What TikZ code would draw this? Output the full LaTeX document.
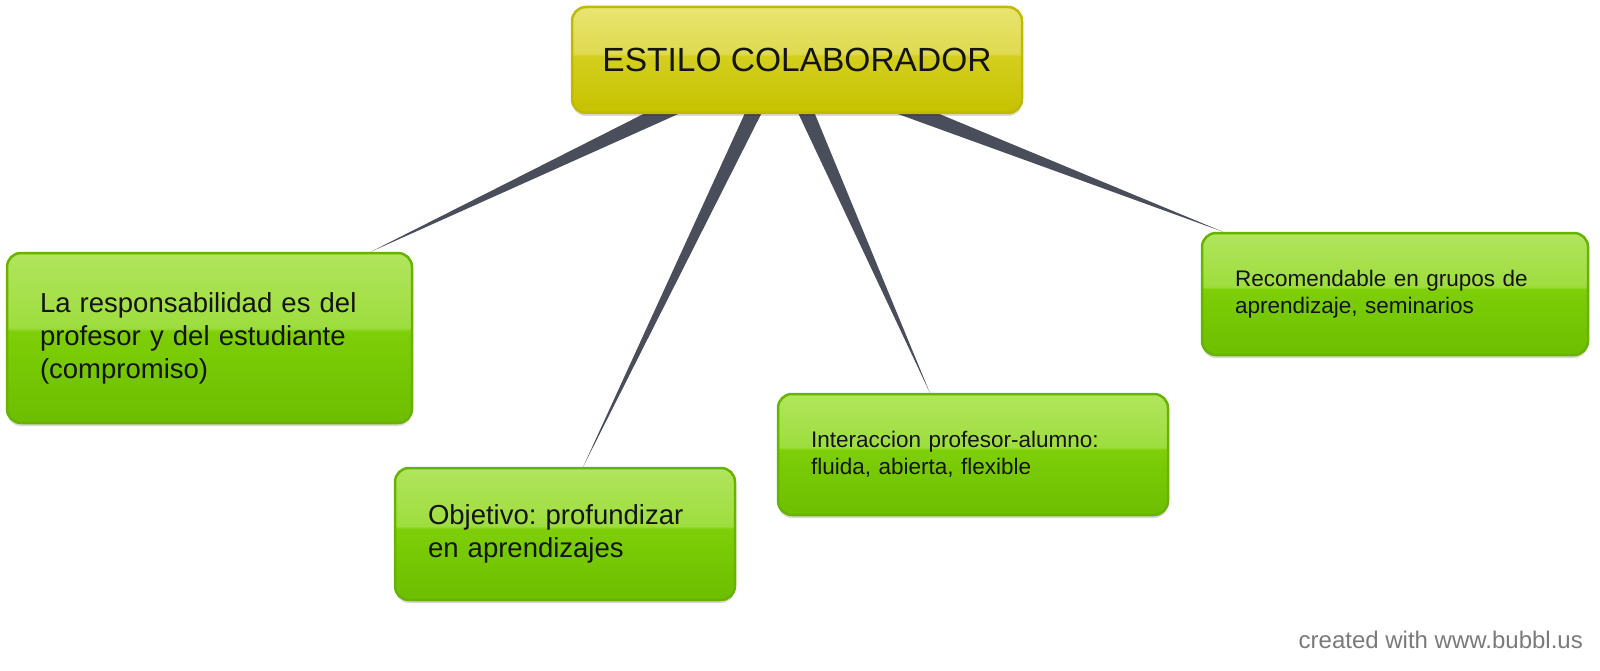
\documentclass[tikz,border=0pt]{standalone}
\usepackage{fontspec}
\setmainfont{Liberation Sans}
\usetikzlibrary{calc,backgrounds,shadows}
\frenchspacing
\definecolor{gT}{RGB}{176,229,92}
\definecolor{gL}{RGB}{158,221,62}
\definecolor{gM}{RGB}{126,207,8}
\definecolor{gB}{RGB}{108,190,0}
\definecolor{gBorder}{RGB}{104,178,0}
\definecolor{yT}{RGB}{232,228,110}
\definecolor{yL}{RGB}{222,218,80}
\definecolor{yM}{RGB}{212,207,30}
\definecolor{yB}{RGB}{198,194,0}
\definecolor{yBorder}{RGB}{190,186,0}
\definecolor{connc}{RGB}{74,78,91}
\definecolor{txt}{RGB}{20,20,20}
\pgfdeclareverticalshading{greengloss}{100bp}{color(0bp)=(gB); color(25bp)=(gB); color(52bp)=(gM); color(53bp)=(gL); color(74bp)=(gT); color(100bp)=(gT)}
\pgfdeclareverticalshading{yellowgloss}{100bp}{color(0bp)=(yB); color(25bp)=(yB); color(52bp)=(yM); color(53bp)=(yL); color(74bp)=(yT); color(100bp)=(yT)}
\tikzset{
  boxbase/.style={rectangle, rounded corners=14pt, line width=2.5pt, inner ysep=0pt,
    drop shadow={shadow xshift=0pt, shadow yshift=-3pt, opacity=0.15, fill=black},
    text=txt, align=left},
  greenbox/.style={boxbase, draw=gBorder, shade, shading=greengloss, inner xsep=33pt},
  yellowbox/.style={boxbase, draw=yBorder, shade, shading=yellowgloss, align=center, inner xsep=0pt},
  bigtxt/.style={font=\fontsize{27.5}{33}\selectfont},
  smalltxt/.style={font=\fontsize{22.5}{27}\selectfont},
  conn/.style={fill=connc}
}
\begin{document}
\begin{tikzpicture}[x=1pt,y=-1pt]
\useasboundingbox (0,0) rectangle (1600,671);
\node[yellowbox, minimum width=450pt, minimum height=106pt, font=\fontsize{33.5}{40}\selectfont] (top) at (797,60) {ESTILO COLABORADOR};
\node[greenbox, bigtxt, minimum width=405pt, minimum height=170pt, text width=339pt] (n1) at (209.5,338) {La responsabilidad es del\\profesor y del estudiante\\(compromiso)};
\node[greenbox, bigtxt, minimum width=340pt, minimum height=132pt, text width=274pt] (n2) at (565,534) {Objetivo: profundizar\\en aprendizajes};
\node[greenbox, smalltxt, minimum width=390pt, minimum height=121pt, text width=324pt] (n3) at (973,454.5) {Interaccion profesor-alumno:\\fluida, abierta, flexible};
\node[greenbox, smalltxt, minimum width=386pt, minimum height=122pt, text width=320pt] (n4) at (1395,294) {Recomendable en grupos de\\aprendizaje, seminarios};
\node[anchor=base east, text=black!52, font=\fontsize{24}{28}\selectfont, inner sep=0pt] (credit) at (1583,648) {created with www.bubbl.us};
\begin{pgfonlayer}{background}
\foreach \n/\a/\b in {n1/0.196/0.896, n2/0.402/0.553, n3/0.522/0.39, n4/0.773/0.057} {
  \coordinate (sa) at ($(top.south west)!\a!(top.south east)$);
  \coordinate (ea) at ($(\n.north west)!\b!(\n.north east)$);
  \coordinate (sb) at ($(ea)!1.15!(sa)$);
  \fill[conn] ($(sb)!8.6pt!90:(ea)$) -- ($(sb)!8.6pt!-90:(ea)$) -- (ea) -- cycle;
}
\end{pgfonlayer}
\end{tikzpicture}
\end{document}
